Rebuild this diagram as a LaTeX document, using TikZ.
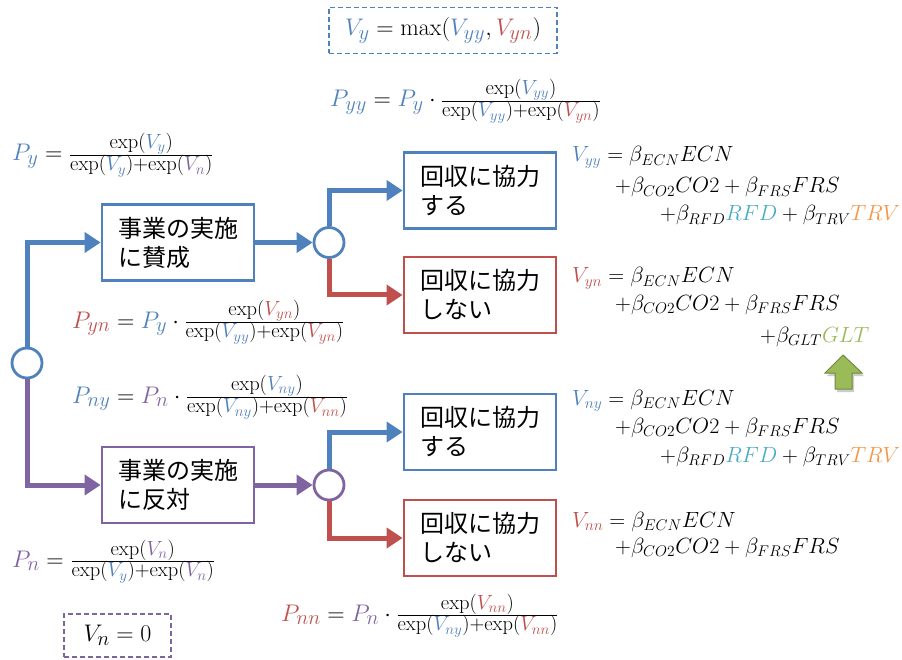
\RequirePackage{fix-cm}
\documentclass[tikz,border=0pt]{standalone}
\usepackage{fontspec}
\newfontfamily\jpfont{Noto Sans CJK JP}
\usetikzlibrary{arrows.meta}
\DeclareMathSizes{24}{24}{20.5}{15}
\DeclareMathSizes{22}{22}{15.5}{12}
\definecolor{cblue}{HTML}{4F81BD}
\definecolor{cred}{HTML}{C0504D}
\definecolor{cpurple}{HTML}{8064A2}
\definecolor{cgreen}{HTML}{9BBB59}
\definecolor{cgreendark}{HTML}{71893F}
\definecolor{ccyan}{HTML}{4BACC6}
\definecolor{corange}{HTML}{F79646}
\newcommand{\myVb}[1]{\textcolor{cblue}{V_{#1}}}
\newcommand{\myVr}[1]{\textcolor{cred}{V_{#1}}}
\newcommand{\myVp}[1]{\textcolor{cpurple}{V_{#1}}}
\newcommand{\myPb}[1]{\textcolor{cblue}{P_{#1}}}
\newcommand{\myPr}[1]{\textcolor{cred}{P_{#1}}}
\newcommand{\myPp}[1]{\textcolor{cpurple}{P_{#1}}}
\begin{document}
\begin{tikzpicture}[x=1pt,y=-1pt,
  box/.style={draw, line width=2.8pt, minimum width=152pt, minimum height=76pt, align=left, inner sep=0pt, font=\jpfont\fontsize{24}{29}\selectfont},
  circ/.style={circle, draw, line width=2.8pt, minimum size=30pt, inner sep=0pt, fill=white},
  conn/.style={line width=5pt, -{Triangle[length=16pt,width=20pt]}},
  fm/.style={anchor=base west, inner sep=0pt, font=\fontsize{24}{28}\selectfont},
  rf/.style={anchor=base west, inner sep=0pt, font=\fontsize{22}{26}\selectfont},
  dbox/.style={draw, dashed, line width=1.5pt, dash pattern=on 5pt off 3pt, inner sep=0pt}
]
\useasboundingbox (0,0) rectangle (902,660);
\fill[white] (0,0) rectangle (902,660);

% boxes
\node[box, draw=cblue] (b1) at (178,242.5) {事業の実施\\に賛成};
\node[box, draw=cpurple] (b2) at (178,485) {事業の実施\\に反対};
\node[box, draw=cblue] (b3) at (480,190.5) {回収に協力\\する};
\node[box, draw=cred] (b4) at (480,295) {回収に協力\\しない};
\node[box, draw=cblue] (b5) at (480,432) {回収に協力\\する};
\node[box, draw=cred] (b6) at (480,538) {回収に協力\\しない};

% circles
\node[circ, draw=cblue] (c0) at (27,363) {};
\node[circ, draw=cblue] (c1) at (329,242.5) {};
\node[circ, draw=cpurple] (c2) at (329,485) {};

% connectors
\draw[conn, cblue] (c0.north) |- (b1.west);
\draw[conn, cpurple] (c0.south) |- (b2.west);
\draw[conn, cblue] (b1.east) -- (c1.west);
\draw[conn, cpurple] (b2.east) -- (c2.west);
\draw[conn, cblue] (c1.north) |- (b3.west);
\draw[conn, cred] (c1.south) |- (b4.west);
\draw[conn, cblue] (c2.north) |- (b5.west);
\draw[conn, cred] (c2.south) |- (b6.west);

% dashed boxes
\node[dbox, draw=cblue, minimum width=228pt, minimum height=46pt, font=\fontsize{24}{28}\selectfont] (vy) at (443,30.5) {$\myVb{y} = \max\bigl(\myVb{yy},\myVr{yn}\bigr)$};
\node[dbox, draw=cpurple, minimum width=107pt, minimum height=43pt, font=\fontsize{24}{28}\selectfont] (vn) at (117.5,635.5) {$V_{n} = 0$};

% probability formulas
\node[fm] (fpy) at (12,161) {$\myPb{y} = \frac{\exp(\myVb{y})}{\exp(\myVb{y})+\exp(\myVp{n})}$};
\node[fm] (fpyy) at (330,107) {$\myPb{yy} = \myPb{y}\cdot\frac{\exp(\myVb{yy})}{\exp(\myVb{yy})+\exp(\myVr{yn})}$};
\node[fm] (fpyn) at (72,328) {$\myPr{yn} = \myPb{y}\cdot\frac{\exp(\myVr{yn})}{\exp(\myVb{yy})+\exp(\myVr{yn})}$};
\node[fm] (fpny) at (72,403) {$\myPb{ny} = \myPp{n}\cdot\frac{\exp(\myVb{ny})}{\exp(\myVb{ny})+\exp(\myVr{nn})}$};
\node[fm] (fpn) at (12,567) {$\myPp{n} = \frac{\exp(\myVp{n})}{\exp(\myVb{y})+\exp(\myVp{n})}$};
\node[fm] (fpnn) at (281,621) {$\myPr{nn} = \myPp{n}\cdot\frac{\exp(\myVr{nn})}{\exp(\myVb{ny})+\exp(\myVr{nn})}$};

% utility formulas
\node[rf] (vyy1) at (572,162) {$\myVb{yy} = \beta_{ECN}ECN$};
\node[rf] (vyy2) at (615,193) {$+\beta_{CO2}CO2 + \beta_{FRS}FRS$};
\node[rf] (vyy3) at (660,221) {$+\beta_{RFD}\textcolor{ccyan}{RFD} + \beta_{TRV}\textcolor{corange}{TRV}$};
\node[rf] (vyn1) at (572,283) {$\myVr{yn} = \beta_{ECN}ECN$};
\node[rf] (vyn2) at (615,310) {$+\beta_{CO2}CO2 + \beta_{FRS}FRS$};
\node[rf] (vyn3) at (760,342) {$+\beta_{GLT}\textcolor{cgreen}{GLT}$};
\node[rf] (vny1) at (572,405) {$\myVb{ny} = \beta_{ECN}ECN$};
\node[rf] (vny2) at (615,433) {$+\beta_{CO2}CO2 + \beta_{FRS}FRS$};
\node[rf] (vny3) at (660,462) {$+\beta_{RFD}\textcolor{ccyan}{RFD} + \beta_{TRV}\textcolor{corange}{TRV}$};
\node[rf] (vnn1) at (572,527) {$\myVr{nn} = \beta_{ECN}ECN$};
\node[rf] (vnn2) at (615,553) {$+\beta_{CO2}CO2 + \beta_{FRS}FRS$};

% green up arrow
\fill[black!20] (845,358) -- (864,376) -- (854,376) -- (854,392) -- (837,392) -- (837,376) -- (827,376) -- cycle;
\filldraw[fill=cgreen, draw=cgreendark, line width=1pt, line join=miter] (843,355) -- (862,373) -- (852,373) -- (852,389) -- (835,389) -- (835,373) -- (825,373) -- cycle;
\end{tikzpicture}
\end{document}
